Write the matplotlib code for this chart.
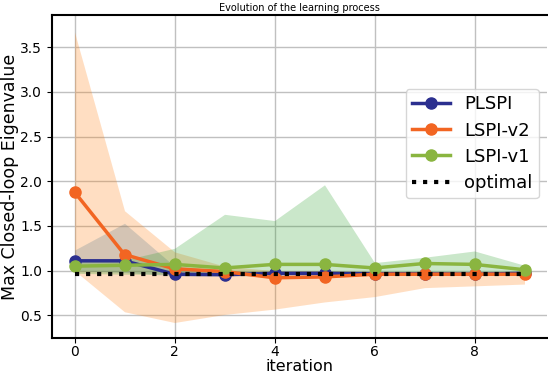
import numpy as np
import matplotlib
matplotlib.use("Agg")
import matplotlib.pyplot as plt

# data
iterations = np.arange(10)

plspi_mean = [1.11, 1.11, 0.96, 0.955, 0.97, 0.97, 0.965, 0.965, 0.96, 0.97]
plspi_low = [1.00, 0.98, 0.94, 0.94, 0.94, 0.95, 0.95, 0.95, 0.95, 0.95]
plspi_high = [1.23, 1.53, 1.05, 1.00, 0.99, 0.99, 0.98, 0.98, 0.98, 0.98]

lspi2_mean = [1.88, 1.18, 1.02, 0.99, 0.92, 0.93, 0.96, 0.96, 0.96, 0.96]
lspi2_low = [1.00, 0.54, 0.42, 0.51, 0.57, 0.65, 0.71, 0.81, 0.83, 0.85]
lspi2_high = [3.67, 1.67, 1.21, 1.05, 1.00, 1.00, 0.99, 0.99, 0.99, 0.99]

lspi1_mean = [1.05, 1.06, 1.07, 1.03, 1.07, 1.07, 1.03, 1.08, 1.07, 1.01]
lspi1_low = [0.97, 0.96, 0.96, 0.95, 0.96, 0.97, 0.98, 0.99, 0.99, 0.99]
lspi1_high = [1.10, 1.12, 1.25, 1.63, 1.56, 1.96, 1.09, 1.15, 1.22, 1.06]

optimal = 0.965

fig = plt.figure(figsize=(5.48, 3.76), dpi=100)
ax = fig.add_axes([52 / 548, 38.3 / 376, 495 / 548, 322.4 / 376])

# shaded spread of each method
ax.fill_between(iterations, plspi_low, plspi_high, color='C0', alpha=0.25, lw=0)
ax.fill_between(iterations, lspi2_low, lspi2_high, color='C1', alpha=0.25, lw=0)
ax.fill_between(iterations, lspi1_low, lspi1_high, color='C2', alpha=0.25, lw=0)

ax.plot(iterations, plspi_mean, '-o', color='#2b2f8f', lw=2.5, ms=8, label='PLSPI')
ax.plot(iterations, lspi2_mean, '-o', color='#f26522', lw=2.5, ms=8, label='LSPI-v2')
ax.plot(iterations, lspi1_mean, '-o', color='#8ab540', lw=2.5, ms=8, label='LSPI-v1')
ax.plot(iterations, [optimal] * len(iterations), ':', color='black', lw=3, label='optimal')

ax.set_xlim(-0.45, 9.45)
ax.set_ylim(0.25, 3.856)
ax.set_xticks([0, 2, 4, 6, 8])
ax.set_yticks([0.5, 1.0, 1.5, 2.0, 2.5, 3.0, 3.5])
ax.tick_params(labelsize=10)
ax.tick_params(axis='x', pad=2)
ax.grid(True, color='#c0c0c0', lw=1)
ax.set_axisbelow(True)
ax.spines['right'].set_visible(False)
for s in ['left', 'bottom', 'top']:
    ax.spines[s].set_linewidth(1.5)

ax.set_title('Evolution of the learning process', fontsize=7, pad=3)
ax.set_xlabel('iteration', fontsize=11.5, labelpad=0)
ax.set_ylabel('Max Closed-loop Eigenvalue', fontsize=12.5, labelpad=1)

ax.legend(loc='upper right', bbox_to_anchor=(0.984, 0.771), borderaxespad=0,
          fontsize=13, handlelength=2.1, borderpad=0.35, labelspacing=0.45,
          handletextpad=0.8)

fig.savefig('out.png', dpi=100)
